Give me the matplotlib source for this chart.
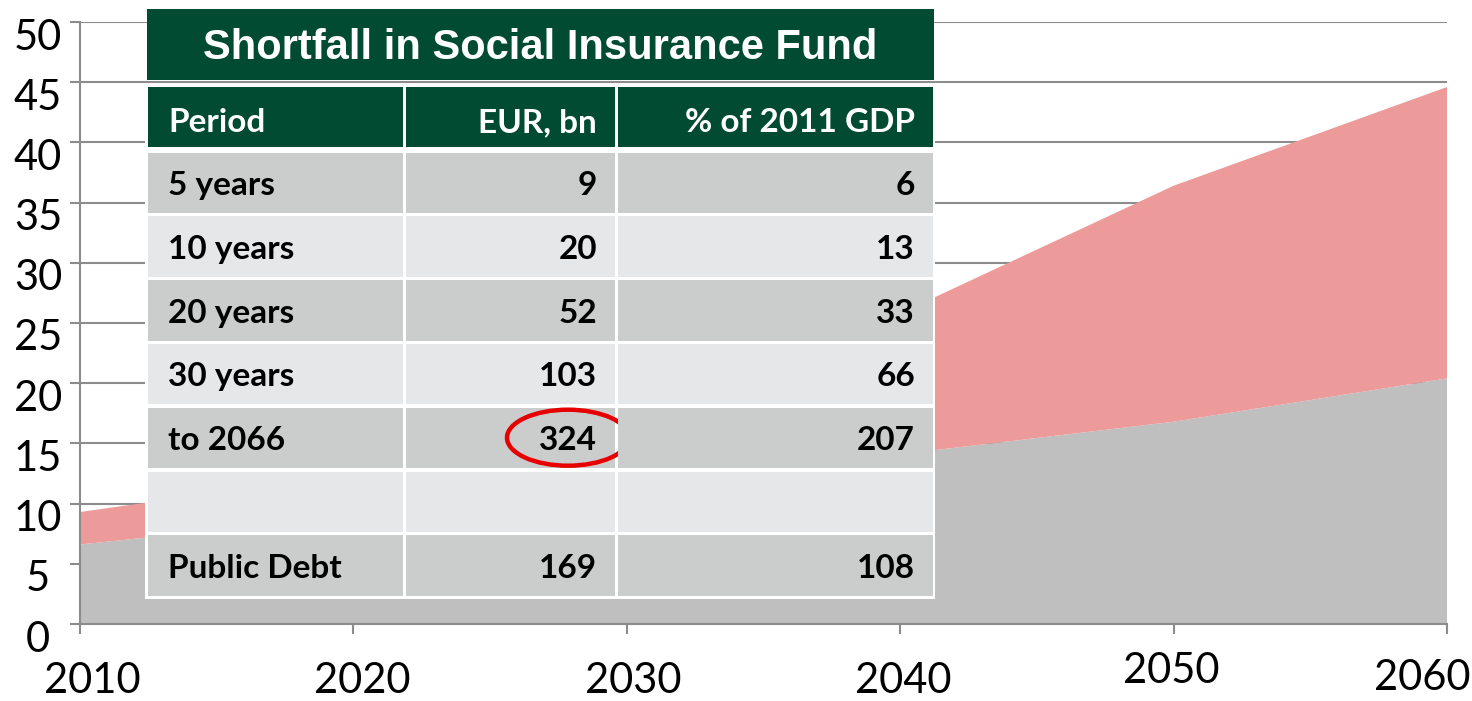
import matplotlib
matplotlib.use('Agg')
import matplotlib.pyplot as plt
from matplotlib import font_manager
from matplotlib.patches import Rectangle, Ellipse
from matplotlib.transforms import ScaledTranslation, blended_transform_factory

# chart data
years = [2010, 2020, 2030, 2040, 2050, 2060]
base_level = [6.6, 9.0, 11.7, 14.1, 16.8, 20.4]
shortfall = [2.7, 3.5, 6.3, 11.7, 19.6, 24.2]
y_ticks = [0, 5, 10, 15, 20, 25, 30, 35, 40, 45, 50]

# table overlay
table_title = 'Shortfall in Social Insurance Fund'
table_header = ['Period', 'EUR, bn', '% of 2011 GDP']
periods = ['5 years', '10 years', '20 years', '30 years', 'to 2066', '', 'Public Debt']
eur_bn = ['9', '20', '52', '103', '324', '', '169']
pct_gdp = ['6', '13', '33', '66', '207', '', '108']
circled = '324'

W, H = 1472, 701
GREEN = '#004b32'
ROW_DARK = '#cacdcc'
ROW_LIGHT = '#e6e7e8'
AXIS_GREY = '#8c8c8c'

names = {f.name for f in font_manager.fontManager.ttflist}
body_font = ['Lato', 'DejaVu Sans'] if 'Lato' in names else ['DejaVu Sans']
title_font = 'Liberation Sans Narrow' if 'Liberation Sans Narrow' in names else 'Liberation Sans'
title_size = 34 if title_font == 'Liberation Sans Narrow' else 30

fig = plt.figure(figsize=(W / 100, H / 100), dpi=100)
ax = fig.add_axes([80 / W, 1 - 624 / H, (1447 - 80) / W, (624 - 22) / H])

ax.stackplot(years, base_level, shortfall, colors=['#bfbfbf', '#ec9a9a'], linewidth=0)
ax.set_xlim(2010, 2060)
ax.set_ylim(0, 50)
ax.set_xticks(years)
ax.set_yticks(y_ticks)
ax.yaxis.grid(True, color=AXIS_GREY, linewidth=1.5)
ax.set_axisbelow(True)
for side in ['top', 'right']:
    ax.spines[side].set_visible(False)
for side in ['left', 'bottom']:
    ax.spines[side].set_color(AXIS_GREY)
    ax.spines[side].set_linewidth(1.5)
ax.tick_params(direction='out', length=7, width=1.5, color=AXIS_GREY,
               labelleft=False, labelbottom=False)

# tick labels placed by hand to follow the slide's uneven layout
px = lambda dx, dy: ScaledTranslation(dx / 100, -dy / 100, fig.dpi_scale_trans)
ytr = blended_transform_factory(ax.transAxes, ax.transData)
for v in y_ticks:
    ax.text(0, v, str(v), transform=ytr + px(-42, 27.5), ha='center', va='baseline',
            fontsize=30, family=body_font, color='black')

x_shift = [12, 9, 6, 3, -2, -25]
x_drop = [69, 69, 69, 69, 59, 66]
xtr = blended_transform_factory(ax.transData, ax.transAxes)
for yr, dx, dy in zip(years, x_shift, x_drop):
    ax.text(yr, 0, str(yr), transform=xtr + px(dx, dy), ha='center', va='baseline',
            fontsize=30, family=body_font, color='black')

# table drawn on a pixel-space overlay
ov = fig.add_axes([0, 0, 1, 1], zorder=5)
ov.set_xlim(0, W)
ov.set_ylim(H, 0)
ov.axis('off')
ov.patch.set_alpha(0)

col_left = [148, 406, 618]
col_right = [403, 615, 933]
ov.add_patch(Rectangle((147, 9), 934 - 147, 71, color=GREEN, lw=0))
ov.text(540, 59, table_title, ha='center', va='baseline', color='white',
        fontsize=title_size, fontweight='bold', family=title_font)

# white backing so the cell gaps read as white rules
ov.add_patch(Rectangle((145, 85), 935 - 145, 599 - 85, color='white', lw=0))

for i, label in enumerate(table_header):
    ov.add_patch(Rectangle((col_left[i], 87), col_right[i] - col_left[i], 59.5, color=GREEN, lw=0))
    tx, ha = (168, 'left') if i == 0 else (col_right[i] - 18, 'right')
    ov.text(tx, 132, label, ha=ha, va='baseline', color='white',
            fontsize=24, fontweight='bold', family=body_font)

for r, row in enumerate(zip(periods, eur_bn, pct_gdp)):
    top = 152.5 + 63.8 * r
    fill = ROW_DARK if r % 2 == 0 else ROW_LIGHT
    for i, cell in enumerate(row):
        ov.add_patch(Rectangle((col_left[i], top), col_right[i] - col_left[i], 60.5, color=fill, lw=0))
        tx, ha = (168, 'left') if i == 0 else (col_right[i] - 18, 'right')
        ov.text(tx, top + 42.5, cell, ha=ha, va='baseline', color='black',
                fontsize=24, fontweight='bold', family=body_font)
        if cell == circled and i == 1:
            ov.add_patch(Ellipse((col_right[i] - 47, top + 30), 122, 56, fill=False,
                                 edgecolor='#e60000', linewidth=3.2))

fig.savefig('out.png', dpi=100)
